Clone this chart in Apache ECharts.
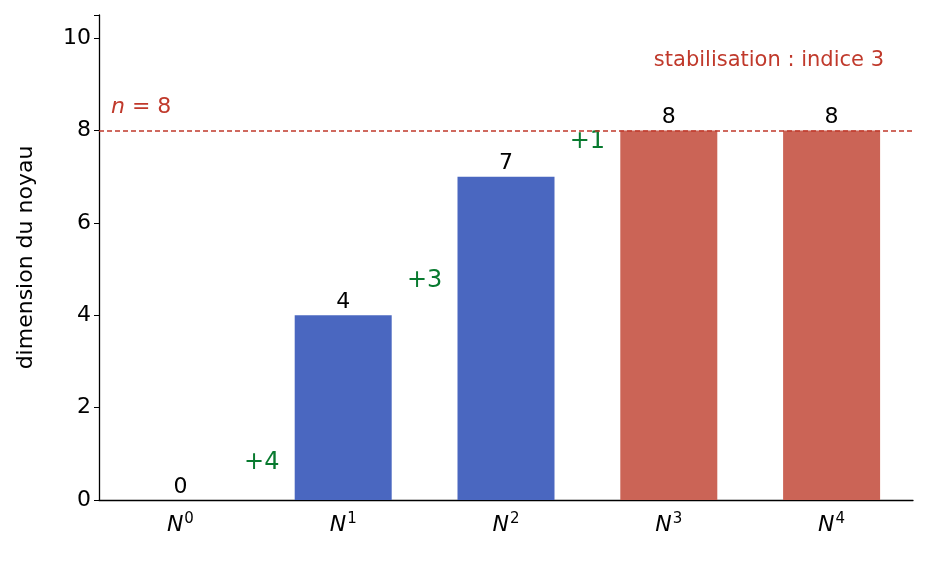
<!DOCTYPE html><html><head><meta charset="utf-8">
<script src="https://cdn.jsdelivr.net/npm/echarts@6/dist/echarts.min.js"></script>
<style>body{margin:0}#c{width:928px;height:562px}</style></head><body><div id="c"></div>
<script>
const categories=['0','1','2','3','4'];
const values=[0,4,7,8,8];
const colors=['#4a67c0','#4a67c0','#4a67c0','#cb6456','#cb6456'];
const diffLabels=['+4','+3','+1'];
const diffX=[0.5,1.5,2.5];
const diffY=[0.8,4.75,7.75];
const nLine=8;
const ch=echarts.init(document.getElementById('c'));
const F='DejaVu Sans';
ch.setOption({
 animation:false,
 grid:{left:99,right:15,top:15,bottom:62},
 xAxis:[{type:'category',data:categories,axisTick:{alignWithLabel:true,length:5,lineStyle:{color:'#000'}},
   axisLine:{lineStyle:{color:'#000',width:1.3}},
   axisLabel:{margin:12,formatter:v=>'{n|N}{s|'+v+'}',rich:{n:{fontFamily:F,fontStyle:'italic',fontSize:22,color:'#000'},s:{fontFamily:F,fontSize:15,color:'#000',verticalAlign:'bottom',padding:[0,0,12,1]}}}},
  {type:'value',min:-0.5,max:4.5,show:false}],
 yAxis:{type:'value',min:0,max:10.5,interval:2,splitLine:{show:false},
  axisLine:{show:true,onZero:false,lineStyle:{color:'#000',width:1.3}},axisTick:{show:true,length:5,lineStyle:{color:'#000'}},
  axisLabel:{fontFamily:F,fontSize:22,color:'#000',margin:8,formatter:v=>v%2===0?v:''},
  name:'dimension du noyau',nameLocation:'middle',nameGap:62,nameTextStyle:{fontFamily:F,fontSize:22,color:'#000'}},
 series:[
  {type:'bar',barWidth:97,data:values.map((v,i)=>({value:v,itemStyle:{color:colors[i]}})),
   label:{show:true,position:'top',distance:2,fontFamily:F,fontSize:22,color:'#000'},
   markLine:{symbol:'none',silent:true,lineStyle:{color:'#c0392b',type:[5,3],width:1.5,opacity:1},
    label:{show:false},data:[{yAxis:nLine}]}},
  {type:'scatter',xAxisIndex:1,symbolSize:0,itemStyle:{opacity:1},data:diffX.map((x,i)=>[x,diffY[i]]),
   label:{show:true,position:'inside',fontFamily:F,fontSize:24,color:'#087a2f',opacity:1,formatter:p=>diffLabels[p.dataIndex]}}
 ],
 graphic:[
  {type:'text',left:111,top:96,style:{text:'{i|n} = 8',rich:{i:{fontFamily:F,fontStyle:'italic',fontSize:22,fill:'#c0392b'}},fontFamily:F,fontSize:22,fill:'#c0392b'}},
  {type:'text',right:44,top:50,style:{text:'stabilisation : indice 3',fontFamily:F,fontSize:21,fill:'#c0392b'}}
 ]
});
</script></body></html>
